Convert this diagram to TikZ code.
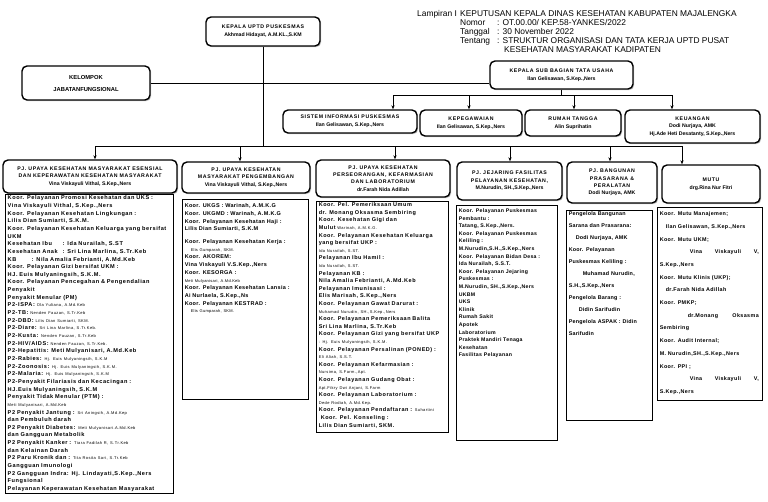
\documentclass[tikz,border=0pt]{standalone}
\usepackage{fontspec}
\setmainfont{Liberation Sans}
\usetikzlibrary{arrows.meta,shadows}
\newcommand\hdf{\bfseries\addfontfeatures{LetterSpace=12}}
\newcommand\hnm{\fontsize{5.2}{7.6}\selectfont\bfseries}
\newcommand\nm[1]{{\fontsize{4}{5}\selectfont\mdseries #1}}
\newcommand\lampf{\fontsize{8.4}{10}\selectfont}
\newcommand\cft[3]{\fontsize{#1}{#2}\selectfont\bfseries\addfontfeatures{LetterSpace=#3}}
\tikzset{
  hbox/.style={draw, line width=1.4pt, rounded corners=5pt, fill=white, align=center, inner sep=1pt,
    font=\hnm, drop shadow={shadow xshift=1.2pt, shadow yshift=-1.2pt, fill=black!45}},
  cbox/.style={draw, line width=0.9pt, fill=white, inner sep=0pt,
    drop shadow={shadow xshift=1.2pt, shadow yshift=-1.2pt, fill=black!45}},
  ctext/.style={anchor=north west, align=left, inner sep=0pt, text width=#1},
  lampt/.style={anchor=base west, inner sep=0pt, font=\lampf},
  conn/.style={line width=0.6pt},
  arr/.style={conn, -{Stealth[length=4pt, width=3.2pt]}},
}
\begin{document}
\begin{tikzpicture}[x=1pt,y=-1pt]
\useasboundingbox (0,0) rectangle (768,501);
\fill[white] (0,0) rectangle (768,501);
% Lampiran
\node (lam) [lampt] at (417,16) {Lampiran I};
\node (kpt) [lampt] at (460,16) {KEPUTUSAN KEPALA DINAS KESEHATAN KABUPATEN MAJALENGKA};
\node (nom) [lampt] at (460,25) {Nomor};
\node (nomv) [lampt] at (497,25) {: OT.00.00/ KEP.58-YANKES/2022};
\node (tgl) [lampt] at (460,34) {Tanggal};
\node (tglv) [lampt] at (497,34) {: 30 November 2022};
\node (ttg) [lampt] at (460,43) {Tentang};
\node (ttgv) [lampt] at (497,43) {: STRUKTUR ORGANISASI DAN TATA KERJA UPTD PUSAT};
\node (ttgv2) [lampt] at (504,52) {KESEHATAN MASYARAKAT KADIPATEN};
% top boxes
\node (k) [hbox, minimum width=114, minimum height=29] at (263,31.5)
  {{\hdf KEPALA UPTD PUSKESMAS}\\Akhmad Hidayat, A.M.KL.,S.KM};
\node (kel) [hbox, minimum width=128, minimum height=34, font=\fontsize{5.8}{12}\selectfont\bfseries] at (86,83)
  {KELOMPOK\\JABATANFUNGSIONAL};
\node (sub) [hbox, minimum width=143, minimum height=28] at (561.5,75)
  {{\hdf KEPALA SUB BAGIAN TATA USAHA}\\Ilan Gelisawan, S.Kep.,Ners};
\node (si) [hbox, minimum width=134, minimum height=23] at (350,121.5)
  {{\hdf SISTEM INFORMASI PUSKESMAS}\\Ilan Gelisawan, S.Kep.,Ners};
\node (kp) [hbox, minimum width=102, minimum height=26] at (471,123)
  {{\hdf KEPEGAWAIAN}\\Ilan Gelisawan, S.Kep.,Ners};
\node (rt) [hbox, minimum width=96, minimum height=26] at (573,123)
  {{\hdf RUMAH TANGGA}\\Alin Suprihatin};
\node (ku) [hbox, minimum width=135, minimum height=33] at (692.5,126.5)
  {{\hdf KEUANGAN}\\Dodi Nurjaya, AMK\\Hj.Ade Heti Desatanty, S.Kep.,Ners};
% PJ boxes
\node (p1) [hbox, minimum width=174, minimum height=33] at (90,176.5)
  {{\hdf PJ. UPAYA KESEHATAN MASYARAKAT ESENSIAL}\\{\hdf DAN KEPERAWATAN KESEHATAN MASYARAKAT}\\Vina Viskayuli Vithal, S.Kep.,Ners};
\node (p2) [hbox, minimum width=128, minimum height=31] at (246,177.5)
  {{\hdf PJ. UPAYA KESEHATAN}\\{\hdf MASYARAKAT PENGEMBANGAN}\\Vina Viskayuli Vithal, S.Kep.,Ners};
\node (p3) [hbox, minimum width=134, minimum height=37, font=\fontsize{5.2}{7.2}\selectfont\bfseries] at (383,178.5)
  {{\hdf PJ. UPAYA KESEHATAN}\\{\hdf PERSEORANGAN, KEFARMASIAN}\\{\hdf DAN LABORATORIUM}\\dr.Farah Nida Adillah};
\node (p4) [hbox, minimum width=105, minimum height=38] at (509.5,181)
  {{\hdf PJ. JEJARING FASILITAS}\\{\hdf PELAYANAN KESEHATAN,}\\M.Nurudin, SH.,S.Kep.,Ners};
\node (p5) [hbox, minimum width=90, minimum height=41, font=\fontsize{5.2}{7.4}\selectfont\bfseries] at (612,182.5)
  {{\hdf PJ. BANGUNAN}\\{\hdf PRASARANA \&}\\{\hdf PERALATAN}\\Dodi Nurjaya, AMK};
\node (p6) [hbox, minimum width=98, minimum height=38] at (711,184)
  {{\hdf MUTU}\\drg.Rina Nur Fitri};
% content boxes
\node (c1) [cbox, minimum width=168, minimum height=299] at (89,343.5) {};
\node (c2) [cbox, minimum width=126, minimum height=200] at (245,299) {};
\node (c3) [cbox, minimum width=132, minimum height=231] at (382,316.5) {};
\node (c4) [cbox, minimum width=101, minimum height=235] at (506.5,322.5) {};
\node (c5) [cbox, minimum width=86, minimum height=210] at (609,315) {};
\node (c6) [cbox, minimum width=105, minimum height=193] at (709.5,303.5) {};
% connectors
\coordinate (b1) at (95,146);
\coordinate (b2) at (240,146);
\coordinate (b3) at (395,146);
\coordinate (b4) at (510,146);
\coordinate (b5) at (610,146);
\coordinate (b6) at (682,146);
\coordinate (bk) at (263,146);
\draw[conn] (b1) -- (b6);
\draw[conn] (k.south) -- (bk);
\foreach \b/\p in {b1/p1,b2/p2,b3/p3,b4/p4,b5/p5,b6/p6}
  \draw[arr] (\b) -- (\b |- \p.north);
\draw[conn] (kel.east) -- (kel.east -| sub.west);
\coordinate (s1) at (393,95);
\coordinate (s2) at (469,95);
\coordinate (s3) at (574,95);
\coordinate (s4) at (672,95);
\draw[conn] (sub.south) -- (sub.south |- s1);
\draw[conn] (s1) -- (s4);
\foreach \s/\t in {s1/si,s2/kp,s3/rt,s4/ku}
  \draw[arr] (\s) -- (\s |- \t.north);
% content texts
\node (t1) [ctext=168, font=\cft{5.6}{7.65}{10}] at ([shift={(3,2)}]c1.north west) {%
Koor. Pelayanan Promosi Kesehatan dan UKS :\\
Vina Viskayuli Vithal, S.Kep.,Ners\\
Koor. Pelayanan Kesehatan Lingkungan :\\
Lilis Dian Sumiarti, S.K.M.\\
Koor. Pelayanan Kesehatan Keluarga yang bersifat\\
UKM\\
\makebox[55pt][l]{Kesehatan Ibu}: Ida Nurailah, S.ST\\
\makebox[55pt][l]{Kesehatan Anak}: Sri Lina Marlina, S.Tr.Keb\\
\makebox[24pt][l]{KB}: Nila Amalia Febrianti, A.Md.Keb\\
Koor. Pelayanan Gizi bersifat UKM :\\
HJ. Euis Mulyaningsih, S.K.M.\\
Koor. Pelayanan Pencegahan \& Pengendalian\\
Penyakit\\
Penyakit Menular (PM)\\
P2-ISPA: \nm{Ola Yuliana, A.Md.Keb}\\
P2-TB: \nm{Nenden Fauzan, S.Tr.Keb}\\
P2-DBD: \nm{Lilis Dian Sumiarti, SKM.}\\
P2-Diare: \nm{Sri Lina Marlina, S.Tr.Keb.}\\
P2-Kusta: \nm{Nenden Fauzan, S.Tr.Keb}\\
P2-HIV/AIDS: \nm{Nenden Fauzan, S.Tr.Keb.}\\
P2-Hepatitis: Meti Mulyanisari, A.Md.Keb\\
P2-Rabies: \nm{Hj. Euis Mulyaningsih, S.K.M}\\
P2-Zoonosis: \nm{Hj. Euis Mulyaningsih, S.K.M.}\\
P2-Malaria: \nm{Hj. Euis Mulyaningsih, S.K.M}\\
P2-Penyakit Filariasis dan Kecacingan :\\
HJ.Euis Mulyaningsih, S.K.M\\
Penyakit Tidak Menular (PTM) :\\
\nm{Meti Mulyanisari, A.Md.Keb}\\
P2 Penyakit Jantung : \nm{Sri Aningsih, A.Md.Kep}\\
dan Pembuluh darah\\
P2 Penyakit Diabetes: \nm{Meti Mulyanisari.A.Md.Keb}\\
dan Gangguan Metabolik\\
P2 Penyakit Kanker : \nm{Tiara Fadilah R, S.Tr.Keb}\\
dan Kelainan Darah\\
P2 Paru Kronik dan : \nm{Tita Rosita Sari, S.Tr.Keb}\\
Gangguan Imunologi\\
P2 Gangguan Indra: Hj. Lindayati,S.Kep.,Ners\\
Fungsional\\
Pelayanan Keperawatan Kesehatan Masyarakat};
\node (t2) [ctext=124, font=\cft{5.5}{7.7}{6}] at ([shift={(3,5)}]c2.north west) {%
Koor. UKGS : Warinah, A.M.K.G\\
Koor. UKGMD : Warinah, A.M.K.G\\
Koor. Pelayanan Kesehatan Haji :\\
Lilis Dian Sumiarti, S.K.M\\[5pt]
Koor. Pelayanan Kesehatan Kerja :\\
\hspace*{6pt}\nm{Elis Gumparah, SKM.}\\
Koor. AKOREM:\\
Vina Viskayuli V.S.Kep.,Ners\\
Koor. KESORGA :\\
\nm{Meti Mulyanisari, A.Md.Keb}\\
Koor. Pelayanan Kesehatan Lansia :\\
Ai Nurlaela, S.Kep.,Ns\\
Koor. Pelayanan KESTRAD :\\
\hspace*{6pt}\nm{Elis Gumparah, SKM.}};
\node (t3) [ctext=130, font=\cft{5.5}{7.6}{10}] at ([shift={(3,2)}]c3.north west) {%
Koor. Pel. Pemeriksaan Umum\\
dr. Monang Oksasma Sembiring\\
Koor. Kesehatan Gigi dan\\
Mulut \nm{Warinah, A.M.K.G.}\\
Koor. Pelayanan Kesehatan Keluarga\\
yang bersifat UKP :\\
\nm{Ida Nurailah, S.ST.}\\
Pelayanan Ibu Hamil :\\
\nm{Ida Nurailah, S.ST.}\\
Pelayanan KB :\\
Nila Amalia Febrianti, A.Md.Keb\\
Pelayanan Imunisasi :\\
Elis Marisah, S.Kep.,Ners\\
Koor. Pelayanan Gawat Darurat :\\
\nm{Muhamad Nurudin, SH.,S.Kep.,Ners}\\
Koor. Pelayanan Pemeriksaan Balita\\
Sri Lina Marlina, S.Tr.Keb\\
Koor. Pelayanan Gizi yang bersifat UKP\\
\nm{: Hj. Euis Mulyaningsih, S.K.M.}\\
Koor. Pelayanan Persalinan (PONED) :\\
\nm{Eli Aliah, S.S.T.}\\
Koor. Pelayanan Kefarmasian :\\
\nm{Nursima, S.Farm.,Apt.}\\
Koor. Pelayanan Gudang Obat :\\
\nm{Apt.Fikry Dwi Anjani, S.Farm}\\
Koor. Pelayanan Laboratorium :\\
\nm{Dede Rodiah, A.Md.Kep.}\\
Koor. Pelayanan Pendaftaran : \nm{Suhartini}\\
\hspace*{2pt}Koor. Pel. Konseling :\\
Lilis Dian Sumiarti, SKM.};
\node (t4) [ctext=99, font=\cft{5.2}{7.6}{6}] at ([shift={(3,4)}]c4.north west) {%
Koor. Pelayanan Puskesmas\\
Pembantu :\\
Tatang, S.Kep.,Ners.\\
Koor. Pelayanan Puskesmas\\
Keliling :\\
M.Nurudin,S.H.,S.Kep.,Ners\\
Koor. Pelayanan Bidan Desa :\\
Ida Nurailah, S.S.T.\\
Koor. Pelayanan Jejaring\\
Puskesmas :\\
M.Nurudin, SH.,S.Kep.,Ners\\
UKBM\\
UKS\\
Klinik\\
Rumah Sakit\\
Apotek\\
Laboratorium\\
Praktek Mandiri Tenaga\\
Kesehatan\\
Fasilitas Pelayanan};
\node (t5) [ctext=84, font=\cft{5.4}{12}{4}] at ([shift={(3,2)}]c5.north west) {%
Pengelola Bangunan\\
Sarana dan Prasarana:\\
\hspace*{7pt}Dodi Nurjaya, AMK\\
Koor. Pelayanan\\
Puskesmas Keliling :\\
\hspace*{14pt}Muhamad Nurudin,\\
S.H.,S.Kep.,Ners\\
Pengelola Barang :\\
\hspace*{10pt}Didin Sarifudin\\
Pengelola ASPAK : Didin\\
Sarifudin};
\node (t6) [ctext=99, font=\cft{5.4}{12.7}{7}] at ([shift={(3,5)}]c6.north west) {%
Koor. Mutu Manajemen;\\
\hspace*{6pt}Ilan Gelisawan, S.Kep.,Ners\\
Koor. Mutu UKM;\\
\hspace*{30pt}Vina\hfill Viskayuli\hfill V,\\
S.Kep.,Ners\\
Koor. Mutu Klinis (UKP);\\
\hspace*{6pt}dr.Farah Nida Adillah\\
Koor. PMKP;\\
\hspace*{28pt}dr.Monang\hfill Oksasma\\
Sembiring\\
Koor. Audit Internal;\\
M. Nurudin,SH.,S.Kep.,Ners\\
Koor. PPI ;\\
\hspace*{30pt}Vina\hfill Viskayuli\hfill V,\\
S.Kep.,Ners};
\end{tikzpicture}
\end{document}
